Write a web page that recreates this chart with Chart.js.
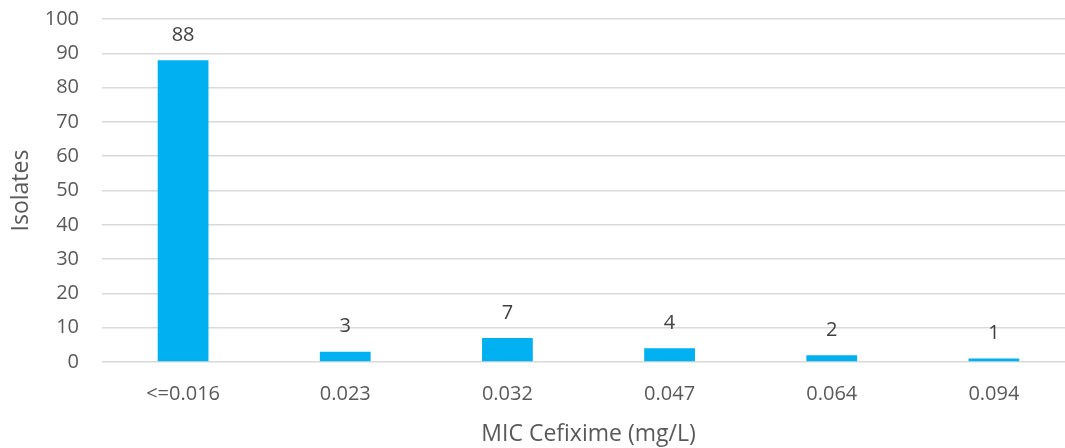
<!DOCTYPE html>
<html>
<head>
<meta charset="utf-8">
<script src="https://cdn.jsdelivr.net/npm/chart.js@4"></script>
<style>
  html, body { margin: 0; padding: 0; background: #fff; overflow: hidden; }
  #wrap { position: relative; width: 1075px; height: 448px; }
</style>
</head>
<body>
<div id="wrap"><canvas id="c"></canvas></div>
<script>
const categories = ['<=0.016', '0.023', '0.032', '0.047', '0.064', '0.094'];
const isolates = [88, 3, 7, 4, 2, 1];
const yTicks = [0, 10, 20, 30, 40, 50, 60, 70, 80, 90, 100];

const FONT = "'Open Sans', 'Noto Sans', sans-serif";
const TEXT = '#595959';

// Value labels above each bar
const barValueLabels = {
  id: 'barValueLabels',
  afterDatasetsDraw(chart) {
    const ctx = chart.ctx;
    const meta = chart.getDatasetMeta(0);
    ctx.save();
    ctx.font = '20px ' + FONT;
    ctx.fillStyle = '#404040';
    ctx.textAlign = 'center';
    ctx.textBaseline = 'middle';
    meta.data.forEach((bar, i) => {
      ctx.fillText(String(isolates[i]), bar.x, bar.y - 25);
    });
    ctx.restore();
  }
};

new Chart(document.getElementById('c'), {
  type: 'bar',
  data: {
    labels: categories,
    datasets: [{
      label: 'Isolates',
      data: isolates,
      backgroundColor: '#00B0F0',
      borderWidth: 0,
      categoryPercentage: 1,
      barPercentage: 0.313
    }]
  },
  options: {
    responsive: true,
    maintainAspectRatio: false,
    animation: false,
    layout: { padding: { top: 19, right: 0, bottom: 0, left: 0 } },
    plugins: { legend: { display: false }, tooltip: { enabled: false } },
    scales: {
      x: {
        grid: { display: false },
        border: { display: false },
        ticks: { color: TEXT, font: { family: FONT, size: 20 }, padding: 12 },
        title: { display: true, text: 'MIC Cefixime (mg/L)', color: TEXT, font: { family: FONT, size: 23 }, padding: { top: 12, bottom: 0 } },
        afterFit(scale) { scale.height = 86; }
      },
      y: {
        min: 0,
        max: 100,
        afterBuildTicks(scale) { scale.ticks = yTicks.map(v => ({ value: v })); },
        grid: { color: '#D9D9D9', lineWidth: 1.5, drawTicks: false },
        border: { display: false },
        ticks: { color: TEXT, font: { family: FONT, size: 20 }, padding: 23 },
        title: { display: true, text: 'Isolates', color: TEXT, font: { family: FONT, size: 23 }, padding: { top: 8, bottom: 4 } },
        afterFit(scale) {
          scale.width = 102;
          scale.paddingTop = 0;
          scale.paddingBottom = 0;
        }
      }
    }
  },
  plugins: [barValueLabels]
});
</script>
</body>
</html>
